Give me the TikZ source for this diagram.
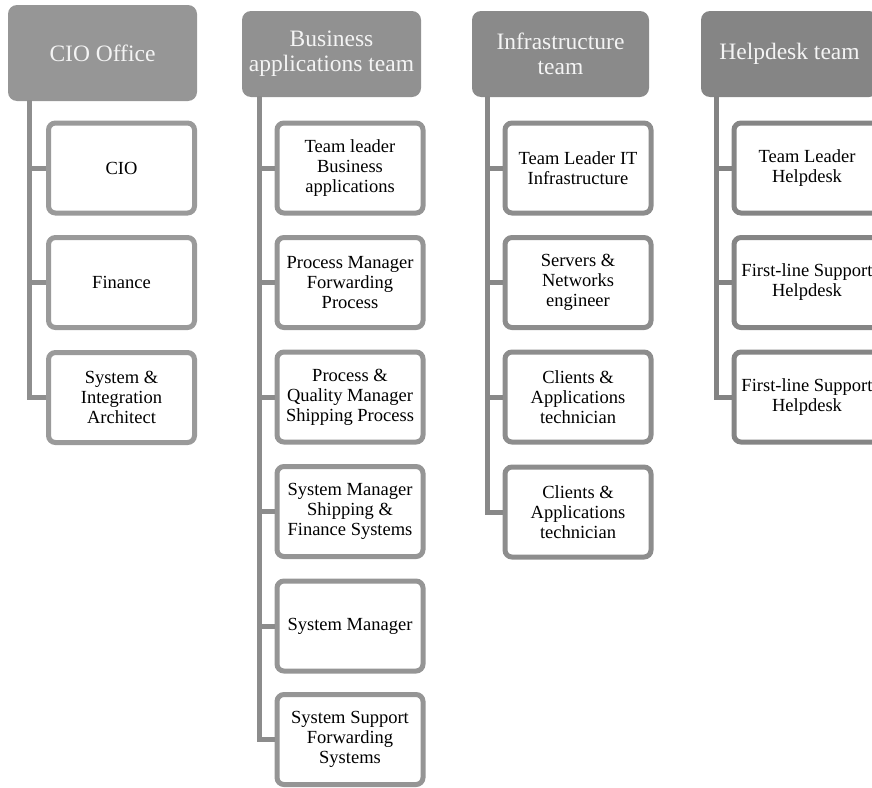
\documentclass[tikz,border=0pt]{standalone}
\usepackage{fontspec}
\setmainfont{Liberation Serif}
\definecolor{cioHead}{HTML}{969696}
\definecolor{cioEdge}{HTML}{9A9A9A}
\definecolor{cioLine}{HTML}{8E8E8E}
\definecolor{busHead}{HTML}{919191}
\definecolor{busEdge}{HTML}{959595}
\definecolor{busLine}{HTML}{8C8C8C}
\definecolor{infHead}{HTML}{8A8A8A}
\definecolor{infEdge}{HTML}{8D8D8D}
\definecolor{infLine}{HTML}{888888}
\definecolor{hlpHead}{HTML}{858585}
\definecolor{hlpEdge}{HTML}{858585}
\definecolor{hlpLine}{HTML}{838383}
\definecolor{headText}{HTML}{F4F4F4}
\begin{document}
\begin{tikzpicture}[x=1pt,y=-1pt,
  teamhead/.style={fill=#1, rounded corners=9pt, text=headText, align=center,
    inner sep=0pt, font=\fontsize{23.5}{25}\selectfont},
  member/.style={draw=#1, line width=5pt, fill=white, rounded corners=7pt,
    minimum width=146pt, minimum height=90pt, inner sep=0pt, align=center,
    font=\fontsize{18.5}{20}\selectfont},
  link/.style={draw=#1, line width=5pt}]
\useasboundingbox (0,0) rectangle (872,787);

% ---- CIO Office ----
\node[teamhead=cioHead, minimum width=189pt, minimum height=96pt] (cioH) at (102.5,53) {CIO Office};
\node[member=cioEdge] (cio1) at (121.5,168) {CIO};
\node[member=cioEdge] (cio2) at (121.5,282.5) {Finance};
\node[member=cioEdge] (cio3) at (121.5,397.5) {System \&\\Integration\\Architect};
\coordinate (cioTop) at (29.5,100);
\draw[link=cioLine] (cioTop) |- (cio3.west);
\foreach \m in {cio1,cio2}
  \draw[link=cioLine] (\m.west -| cioTop) -- (\m.west);

% ---- Business applications team ----
\node[teamhead=busHead, minimum width=179pt, minimum height=86pt] (busH) at (331.5,54) {Business\\applications team};
\node[member=busEdge] (bus1) at (350,168) {Team leader\\Business\\applications};
\node[member=busEdge] (bus2) at (350,282.5) {Process Manager\\Forwarding\\Process};
\node[member=busEdge] (bus3) at (350,397) {Process \&\\Quality Manager\\Shipping Process};
\node[member=busEdge] (bus4) at (350,511.5) {System Manager\\Shipping \&\\Finance Systems};
\node[member=busEdge] (bus5) at (350,626) {System Manager};
\node[member=busEdge] (bus6) at (350,739.5) {System Support\\Forwarding\\Systems};
\coordinate (busTop) at (259.5,96);
\draw[link=busLine] (busTop) |- (bus6.west);
\foreach \m in {bus1,bus2,bus3,bus4,bus5}
  \draw[link=busLine] (\m.west -| busTop) -- (\m.west);

% ---- Infrastructure team ----
\node[teamhead=infHead, minimum width=177pt, minimum height=86pt] (infH) at (560.5,54) {Infrastructure\\team};
\node[member=infEdge] (inf1) at (578,168) {Team Leader IT\\Infrastructure};
\node[member=infEdge] (inf2) at (578,282.5) {Servers \&\\Networks\\engineer};
\node[member=infEdge] (inf3) at (578,397) {Clients \&\\Applications\\technician};
\node[member=infEdge] (inf4) at (578,512) {Clients \&\\Applications\\technician};
\coordinate (infTop) at (487,96);
\draw[link=infLine] (infTop) |- (inf4.west);
\foreach \m in {inf1,inf2,inf3}
  \draw[link=infLine] (\m.west -| infTop) -- (\m.west);

% ---- Helpdesk team ----
\node[teamhead=hlpHead, minimum width=177pt, minimum height=86pt] (hlpH) at (789.5,54) {Helpdesk team};
\node[member=hlpEdge] (hlp1) at (807,168) {Team Leader\\Helpdesk};
\node[member=hlpEdge] (hlp2) at (807,282.5) {First-line Support\\Helpdesk};
\node[member=hlpEdge] (hlp3) at (807,397) {First-line Support\\Helpdesk};
\coordinate (hlpTop) at (716,96);
\draw[link=hlpLine] (hlpTop) |- (hlp3.west);
\foreach \m in {hlp1,hlp2}
  \draw[link=hlpLine] (\m.west -| hlpTop) -- (\m.west);
\end{tikzpicture}
\end{document}
